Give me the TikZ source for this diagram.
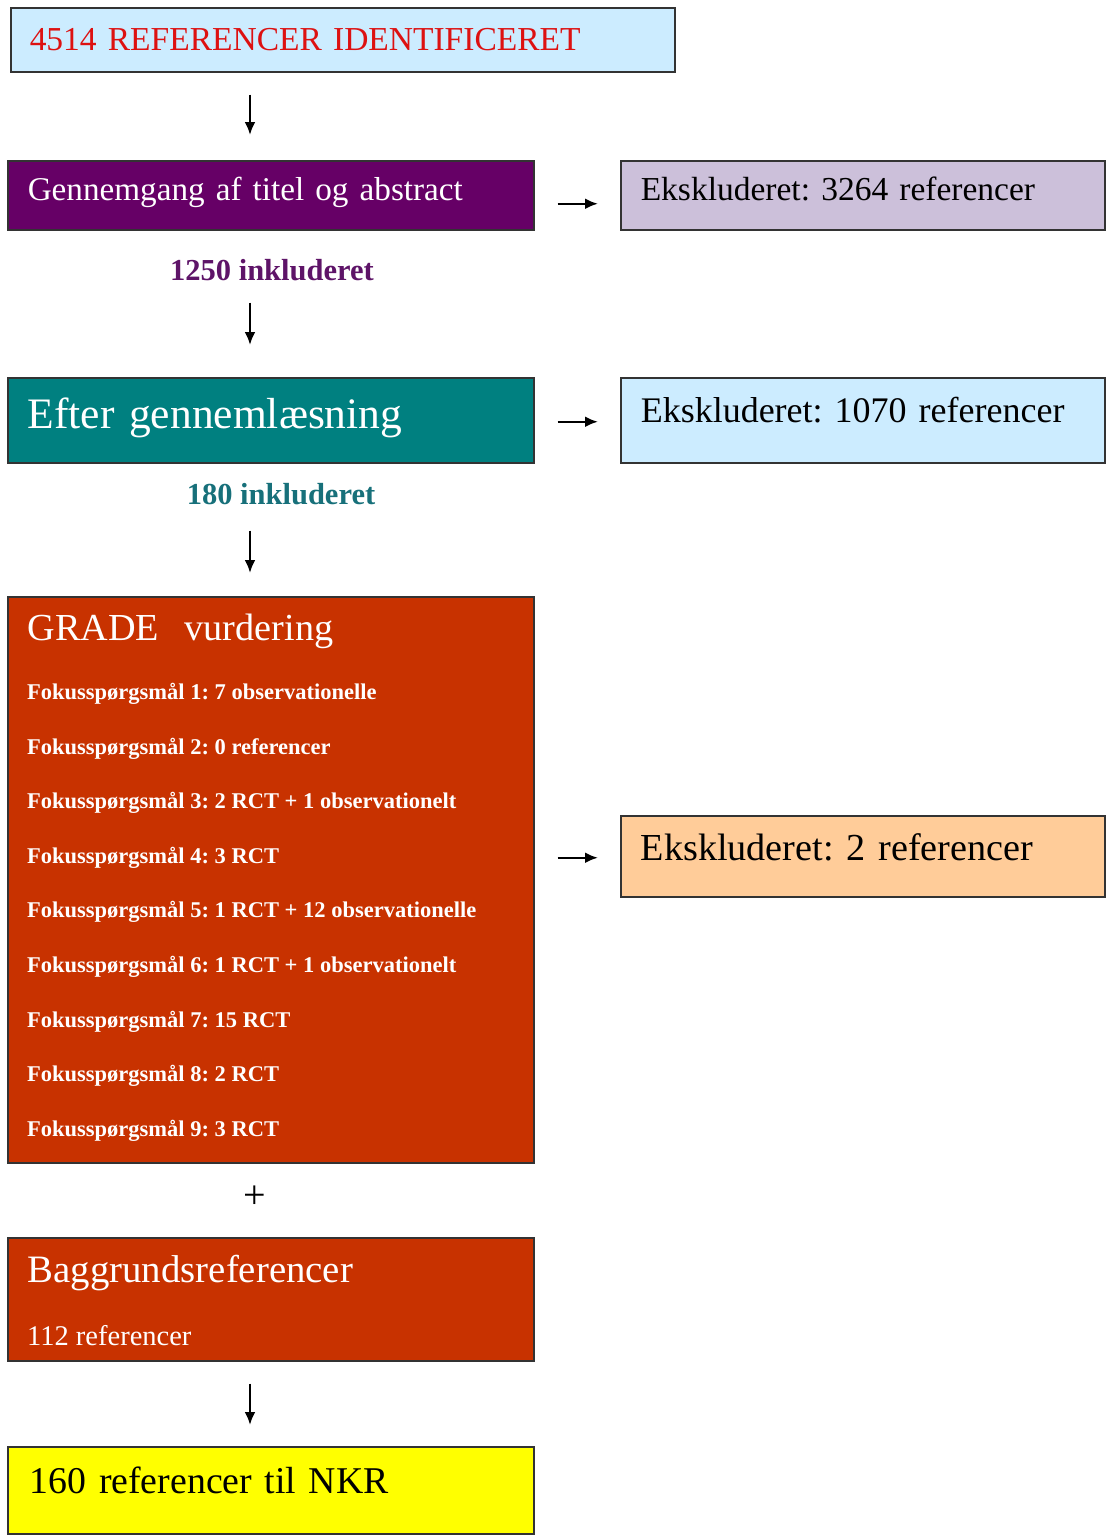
\documentclass[tikz,border=0pt]{standalone}
\usepackage{fontspec}
\setmainfont{Liberation Serif}
\frenchspacing
\usetikzlibrary{arrows.meta}

\definecolor{lysblaa}{HTML}{CCECFF}
\definecolor{lilla}{HTML}{660066}
\definecolor{lyslilla}{HTML}{CCC0DA}
\definecolor{petrol}{HTML}{008080}
\definecolor{teglrod}{HTML}{C83200}
\definecolor{fersken}{HTML}{FFCC99}
\definecolor{gul}{HTML}{FFFF00}
\definecolor{rodtekst}{HTML}{DD1111}
\definecolor{lillatekst}{HTML}{5E1468}
\definecolor{petroltekst}{HTML}{17707A}

\begin{document}
\begin{tikzpicture}[x=1pt, y=-1pt, >={Latex[length=13pt,width=11pt]},
		boks/.style={draw=black!80, line width=1.5pt, anchor=north west, align=left,
			inner xsep=20pt, inner ysep=0pt},
		tal/.style={inner sep=0pt, anchor=base, font=\bfseries\fontsize{30.5}{36}\selectfont},
		pil/.style={->, line width=2.5pt}]
		\useasboundingbox (0, 0) rectangle (1107, 1535);
		\coordinate (X) at (250, 0);
		% venstre kolonne
		\node[boks, fill=lysblaa, text=rodtekst, text width=626pt, inner xsep=19pt,
			text height=43pt, text depth=21pt, font=\fontsize{33.5}{40}\selectfont]
			(ref) at (10, 7) {4514 REFERENCER IDENTIFICERET};
		\node[boks, fill=lilla, text=white, text width=486pt,
			text height=40pt, text depth=29pt, font=\fontsize{33.2}{40}\selectfont]
			(titel) at (7, 160) {Gennemgang af titel og abstract};
		\node[tal, text=lillatekst] (inkl1) at (272, 280) {1250 inkluderet};
		\node[boks, fill=petrol, text=white, text width=486pt,
			text height=51pt, text depth=34pt, font=\fontsize{43.5}{50}\selectfont]
			(laes) at (7, 377) {Efter gennemlæsning};
		\node[tal, text=petroltekst] (inkl2) at (281, 504) {180 inkluderet};
		\node[boks, fill=teglrod, text=white, text width=486pt,
			text height=44pt, text depth=522pt, font=\fontsize{38.2}{45}\selectfont]
			(grade) at (7, 596) {GRADE\ \ vurdering};
		\node[inner sep=0pt, anchor=north west, align=left, text=white,
			font=\bfseries\fontsize{22.5}{54.6}\selectfont] (fokus) at (27, 683)
			{Fokusspørgsmål 1: 7 observationelle\\
			Fokusspørgsmål 2: 0 referencer\\
			Fokusspørgsmål 3: 2 RCT + 1 observationelt\\
			Fokusspørgsmål 4: 3 RCT\\
			Fokusspørgsmål 5: 1 RCT + 12 observationelle\\
			Fokusspørgsmål 6: 1 RCT + 1 observationelt\\
			Fokusspørgsmål 7: 15 RCT\\
			Fokusspørgsmål 8: 2 RCT\\
			Fokusspørgsmål 9: 3 RCT};
		\node[inner sep=0pt, font=\fontsize{40}{46}\selectfont] (plus) at (255, 1197) {+};
		\node[boks, fill=teglrod, text=white, text width=486pt,
			text height=45pt, text depth=78pt, font=\fontsize{38.8}{45}\selectfont]
			(baggrund) at (7, 1237) {Baggrundsreferencer};
		\node[inner sep=0pt, anchor=base west, text=white, font=\fontsize{28.5}{34}\selectfont]
			(antal) at (27, 1345) {112 referencer};
		\node[boks, fill=gul, text width=482pt, inner xsep=22pt,
			text height=47pt, text depth=40pt, font=\fontsize{37.8}{45}\selectfont]
			(nkr) at (7, 1446) {160 referencer til NKR};
		% hoejre kolonne
		\node[boks, fill=lyslilla, text width=444pt,
			text height=40pt, text depth=29pt, font=\fontsize{33.5}{40}\selectfont]
			(eks1) at (620, 160) {Ekskluderet: 3264 referencer};
		\node[boks, fill=lysblaa, text width=444pt,
			text height=45pt, text depth=40pt, font=\fontsize{36}{42}\selectfont]
			(eks2) at (620, 377) {Ekskluderet: 1070 referencer};
		\node[boks, fill=fersken, text width=444pt,
			text height=45pt, text depth=36pt, font=\fontsize{38.2}{45}\selectfont]
			(eks3) at (620, 815) {Ekskluderet: 2 referencer};
		% pile
		\draw[pil, shorten <=22pt, shorten >=25pt] (ref.south -| X) -- (titel.north -| X);
		\draw[pil, shorten <=22pt, shorten >=32pt] (inkl1.south -| X) -- (laes.north -| X);
		\draw[pil, shorten <=26pt, shorten >=23pt] (inkl2.south -| X) -- (grade.north -| X);
		\draw[pil, shorten <=22pt, shorten >=21pt] (baggrund.south -| X) -- (nkr.north -| X);
		\draw[pil, shorten <=23pt, shorten >=22pt] ([yshift=-8.5pt]titel.east) -- ([yshift=-8.5pt]eks1.west);
		\draw[pil, shorten <=23pt, shorten >=22pt] ([yshift=-1.5pt]laes.east) -- ([yshift=-1.5pt]eks2.west);
		\draw[pil, shorten <=23pt, shorten >=22pt] ([yshift=-1.5pt]grade.east |- eks3.west) -- ([yshift=-1.5pt]eks3.west);
\end{tikzpicture}
\end{document}
